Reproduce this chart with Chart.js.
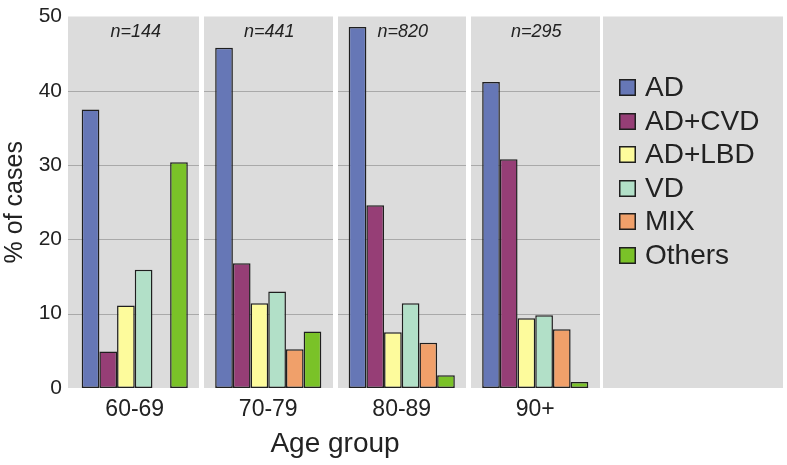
<!DOCTYPE html>
<html>
<head>
<meta charset="utf-8">
<script src="https://cdn.jsdelivr.net/npm/chart.js@4"></script>
<style>
  html, body { margin: 0; padding: 0; background: #fff; }
</style>
</head>
<body>
<canvas id="myChart" width="787" height="465"></canvas>
<script>
// Age groups on the x axis
const ageGroups = ["60-69", "70-79", "80-89", "90+"];

// Number of cases shown on top of each panel
const caseCounts = ["n=144", "n=441", "n=820", "n=295"];

// Diagnosis names
const diagnoses = ["AD", "AD+CVD", "AD+LBD", "VD", "MIX", "Others"];

// % of cases per diagnosis, one value per age group
const adValues = [37.5, 45.8, 48.6, 41.2];
const adCvdValues = [4.9, 16.8, 24.6, 30.8];
const adLbdValues = [11.1, 11.4, 7.5, 9.4];
const vdValues = [15.9, 13.0, 11.4, 9.8];
const mixValues = [0, 5.2, 6.1, 7.9];
const othersValues = [30.4, 7.6, 1.7, 0.8];

// Y axis tick labels
const yTicks = [0, 10, 20, 30, 40, 50];

const barColors = ["#6677b6", "#963e76", "#fdfb9c", "#b2e0c8", "#f0a06a", "#7ac228"];
const seriesValues = [adValues, adCvdValues, adLbdValues, vdValues, mixValues, othersValues];

const textColor = "#222";
const edgeColor = "#1f1f1f";
const fontFamily = "'Liberation Sans', Arial, sans-serif";
const panelColor = "#dcdcdc";

// Grey panels, grid lines, case counts and the legend
const panelsPlugin = {
  id: "panels",
  beforeDraw: (chart) => {
    const { ctx, chartArea } = chart;
    const x = chart.scales.x;
    const y = chart.scales.y;
    const step = (chartArea.right - chartArea.left) / ageGroups.length;
    ctx.save();
    ageGroups.forEach((group, i) => {
      const mid = x.getPixelForValue(i);
      const left = i === 0 ? chartArea.left : Math.round(mid - step / 2 + 2.5);
      const right = Math.round(mid + step / 2 - 2.5);
      ctx.fillStyle = panelColor;
      ctx.fillRect(left, chartArea.top, right - left, chartArea.bottom - chartArea.top);
      ctx.strokeStyle = "#a9a9a9";
      ctx.lineWidth = 1;
      yTicks.forEach((t) => {
        if (t === yTicks[0] || t === yTicks[yTicks.length - 1]) return;
        const py = Math.round(y.getPixelForValue(t)) + 0.5;
        ctx.beginPath();
        ctx.moveTo(left, py);
        ctx.lineTo(right, py);
        ctx.stroke();
      });
    });
    // legend panel
    ctx.fillStyle = panelColor;
    ctx.fillRect(chartArea.right + 1, chartArea.top, chart.width - 4 - chartArea.right - 1, chartArea.bottom - chartArea.top);
    ctx.restore();
  },
  afterDatasetsDraw: (chart) => {
    const { ctx, chartArea } = chart;
    const x = chart.scales.x;
    ctx.save();
    ctx.fillStyle = textColor;
    ctx.font = "italic 18px " + fontFamily;
    ctx.textAlign = "center";
    ctx.textBaseline = "middle";
    caseCounts.forEach((label, i) => {
      ctx.fillText(label, x.getPixelForValue(i) + 1, chartArea.top + 15);
    });
    ctx.restore();
  },
  afterDraw: (chart) => {
    const { ctx, chartArea } = chart;
    const boxX = chartArea.right + 17;
    const boxSize = 17;
    const firstRow = 87.5;
    const rowStep = 33.5;
    ctx.save();
    ctx.font = "28px " + fontFamily;
    ctx.textAlign = "left";
    ctx.textBaseline = "middle";
    chart.data.datasets.forEach((ds, i) => {
      const cy = firstRow + i * rowStep;
      ctx.fillStyle = ds.backgroundColor;
      ctx.fillRect(boxX, Math.round(cy - boxSize / 2), boxSize, boxSize);
      ctx.strokeStyle = edgeColor;
      ctx.lineWidth = 1.5;
      ctx.strokeRect(boxX + 0.75, Math.round(cy - boxSize / 2) + 0.75, boxSize - 1.5, boxSize - 1.5);
      ctx.fillStyle = textColor;
      ctx.fillText(ds.label, boxX + 26, cy + 1);
    });
    ctx.restore();
  }
};

const ctx = document.getElementById("myChart").getContext("2d");
const myChart = new Chart(ctx, {
  type: "bar",
  data: {
    labels: ageGroups,
    datasets: diagnoses.map((name, i) => ({
      label: name,
      data: seriesValues[i],
      backgroundColor: barColors[i],
      borderColor: edgeColor,
      borderWidth: 1.5,
      borderSkipped: false,
      categoryPercentage: 0.795,
      barPercentage: 1
    }))
  },
  options: {
    responsive: false,
    animation: false,
    devicePixelRatio: 1,
    layout: { padding: { top: 11, right: 185, left: 0, bottom: 0 } },
    plugins: {
      legend: { display: false },
      tooltip: { enabled: false }
    },
    scales: {
      x: {
        afterFit: (scale) => { scale.height = 77; },
        grid: { display: false, drawTicks: false },
        border: { display: false },
        ticks: { padding: 8, color: textColor, font: { family: fontFamily, size: 23 } },
        title: {
          display: true,
          text: "Age group",
          color: textColor,
          font: { family: fontFamily, size: 28 },
          padding: { top: 0, bottom: 4 }
        }
      },
      y: {
        min: 0,
        max: 50,
        afterFit: (scale) => { scale.width = 68; },
        afterBuildTicks: (scale) => { scale.ticks = yTicks.map((v) => ({ value: v })); },
        grid: { display: false, drawTicks: false },
        border: { display: false },
        ticks: { padding: 6, color: textColor, font: { family: fontFamily, size: 21, lineHeight: 1 } },
        title: {
          display: true,
          text: "% of cases",
          color: textColor,
          font: { family: fontFamily, size: 25 },
          padding: 0
        }
      }
    }
  },
  plugins: [panelsPlugin]
});
</script>
</body>
</html>
